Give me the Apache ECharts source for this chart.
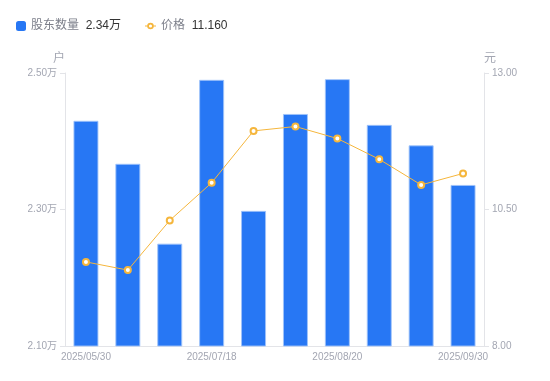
<!DOCTYPE html>
<html><head><meta charset="utf-8">
<script src="https://cdn.jsdelivr.net/npm/echarts@6/dist/echarts.min.js"></script>
<style>html,body{margin:0;padding:0;background:#fff}#c{width:550px;height:381px}</style>
</head><body><div id="c"></div>
<script>
var categories = ['2025/05/30','2025/06/10','2025/06/20','2025/07/18','2025/07/31','2025/08/10','2025/08/20','2025/08/31','2025/09/10','2025/09/30'];
var holders = [2.430, 2.367, 2.250, 2.490, 2.298, 2.440, 2.491, 2.424, 2.394, 2.336]; // 万户
var prices = [9.54, 9.39, 10.30, 10.99, 11.94, 12.02, 11.80, 11.42, 10.95, 11.16];
var leftTicks = [2.10, 2.50];
var rightTicks = [8.00, 13.00];
var legendValues = {'股东数量':'2.34万','价格':'11.160'};

var FONT = '"Liberation Sans","Noto Sans CJK SC",sans-serif';
var legendText = {fontFamily:FONT, rich:{n:{color:'#7c7f8a',fontSize:12,fontFamily:FONT},v:{color:'#333',fontSize:12,fontFamily:FONT}}};
function fmt(n){return '{n|'+n+'}  {v|'+legendValues[n]+'}';}
var lineIcon = 'path://M0,4.6H2.2V5.4H0Z M7.8,4.6H10V5.4H7.8Z M2,5A3,3 0 1,1 8,5A3,3 0 1,1 2,5Z M3.6,5A1.4,1.4 0 1,0 6.4,5A1.4,1.4 0 1,0 3.6,5Z';

var chart = echarts.init(document.getElementById('c'), null, {renderer:'canvas'});
chart.setOption({
  animation:false,
  textStyle:{fontFamily:FONT},
  legend:[{
    left:11, top:15, itemWidth:10, itemHeight:10,
    data:[{name:'股东数量',icon:'roundRect',itemStyle:{color:'#2777f4',borderWidth:0}}],
    formatter:fmt, textStyle:legendText
  },{
    left:140, top:15, itemWidth:11, itemHeight:10,
    data:[{name:'价格',icon:lineIcon,itemStyle:{color:'#f5b63c',borderWidth:0}}],
    formatter:fmt, textStyle:legendText
  }],
  grid:{left:65,right:66,top:73,bottom:35,containLabel:false},
  xAxis:{
    type:'category', data:categories,
    axisLine:{lineStyle:{color:'#e3e4e8'}},
    axisTick:{show:false},
    axisLabel:{color:'#a3a6b2',fontSize:10,interval:2,margin:6}
  },
  yAxis:[{
    type:'value', min:leftTicks[0], max:leftTicks[1], interval:0.2,
    name:'户', nameGap:8, nameTextStyle:{color:'#a3a6b2',fontSize:12,align:'right'},
    axisLine:{show:true,lineStyle:{color:'#e3e4e8'}},
    axisTick:{show:true,length:5,lineStyle:{color:'#e3e4e8'}},
    splitLine:{show:false},
    axisLabel:{color:'#a3a6b2',fontSize:10,margin:8,formatter:function(v){return v.toFixed(2)+'万';}}
  },{
    type:'value', min:rightTicks[0], max:rightTicks[1], interval:2.5,
    name:'元', nameGap:8, nameTextStyle:{color:'#a3a6b2',fontSize:12,align:'left'},
    axisLine:{show:true,lineStyle:{color:'#e3e4e8'}},
    axisTick:{show:true,length:5,lineStyle:{color:'#e3e4e8'}},
    splitLine:{show:false},
    axisLabel:{color:'#a3a6b2',fontSize:10,margin:8,formatter:function(v){return v.toFixed(2);}}
  }],
  series:[{
    name:'股东数量', type:'bar', data:holders, yAxisIndex:0, barWidth:25,
    itemStyle:{color:'#2777f4',borderColor:'rgba(160,195,250,0.9)',borderWidth:1}
  },{
    name:'价格', type:'line', data:prices, yAxisIndex:1,
    symbol:'circle', symbolSize:6, showSymbol:true,
    lineStyle:{color:'#f5b63c',width:1},
    itemStyle:{color:'#fff',borderColor:'#f5b63c',borderWidth:2}
  }]
});
</script></body></html>
